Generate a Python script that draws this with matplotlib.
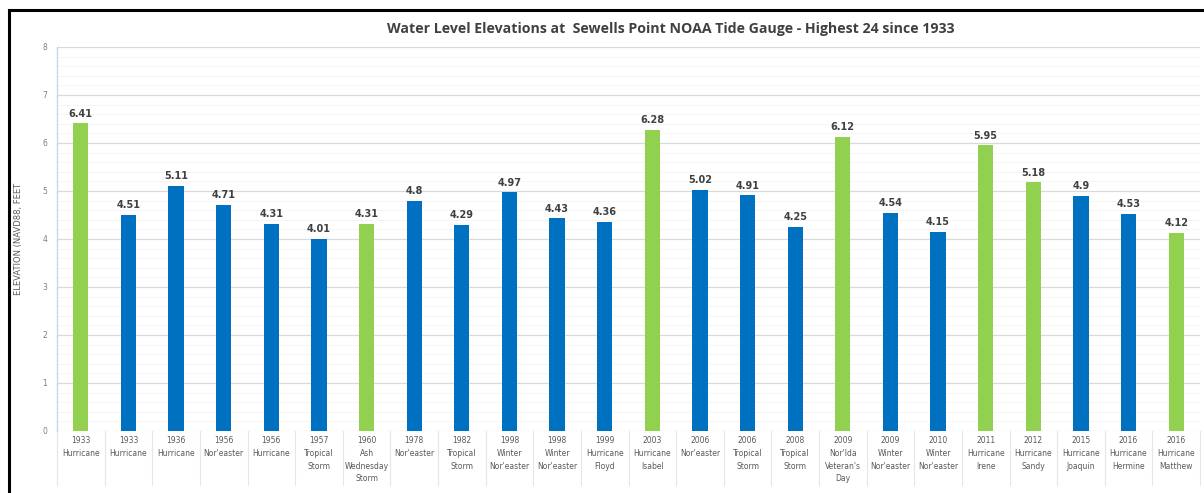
import matplotlib.pyplot as plt
import matplotlib.transforms as mtransforms
import numpy as np

years = ["1933", "1933", "1936", "1956", "1956", "1957", "1960", "1978", "1982",
         "1998", "1998", "1999", "2003", "2006", "2006", "2008", "2009", "2009",
         "2010", "2011", "2012", "2015", "2016", "2016"]
storms = ["Hurricane", "Hurricane", "Hurricane", "Nor'easter", "Hurricane",
          "Tropical\nStorm", "Ash\nWednesday\nStorm", "Nor'easter", "Tropical\nStorm",
          "Winter\nNor'easter", "Winter\nNor'easter", "Hurricane\nFloyd",
          "Hurricane\nIsabel", "Nor'easter", "Tropical\nStorm", "Tropical\nStorm",
          "Nor'Ida\nVeteran's\nDay", "Winter\nNor'easter", "Winter\nNor'easter",
          "Hurricane\nIrene", "Hurricane\nSandy", "Hurricane\nJoaquin",
          "Hurricane\nHermine", "Hurricane\nMatthew"]
elevation = [6.41, 4.51, 5.11, 4.71, 4.31, 4.01, 4.31, 4.8, 4.29, 4.97, 4.43, 4.36,
             6.28, 5.02, 4.91, 4.25, 6.12, 4.54, 4.15, 5.95, 5.18, 4.9, 4.53, 4.12]
# named storms highlighted in green
highlight = [True, False, False, False, False, False, True, False, False, False,
             False, False, True, False, False, False, True, False, False, True,
             True, False, False, True]

GREEN = "#92D050"
BLUE = "#0070C0"
TEXT = "#595959"

fig = plt.figure(figsize=(12.04, 4.93), dpi=100)
ax = fig.add_axes([57 / 1204, 62 / 493, 1143 / 1204, 384 / 493])

x = np.arange(len(elevation))
colors = [GREEN if h else BLUE for h in highlight]
ax.bar(x, elevation, width=0.32, color=colors, zorder=3)

for xi, v in zip(x, elevation):
    ax.text(xi, v + 0.1, "{:g}".format(v), ha="center", va="bottom",
            fontsize=7, fontweight="bold", color="#404040")

ax.set_xlim(-0.5, len(elevation) - 0.5)
ax.set_ylim(0, 8)
ax.set_yticks(range(0, 9))
ax.set_yticks(np.arange(0, 8.01, 0.2), minor=True)
ax.tick_params(axis="y", which="both", length=0, labelsize=5.5, labelcolor="#7f7f7f", pad=7)
ax.grid(axis="y", which="major", color="#d9d9d9", linewidth=0.9, zorder=0)
ax.grid(axis="y", which="minor", color="#f4f4f4", linewidth=0.6, zorder=0)
ax.set_xticks([])

for side in ["top", "right", "bottom"]:
    ax.spines[side].set_visible(False)
ax.spines["left"].set_color("#bdd7ee")
ax.spines["left"].set_linewidth(0.9)

# two-level category labels under the axis
trans = mtransforms.blended_transform_factory(ax.transData, ax.transAxes)
for b in np.arange(-0.5, len(elevation), 1.0):
    ax.plot([b, b], [0, -0.14], transform=trans, color="#e6e6e6",
            linewidth=0.8, clip_on=False)
for xi, yr, name in zip(x, years, storms):
    ax.text(xi, -0.012, yr, transform=trans, ha="center", va="top",
            fontsize=5.5, color=TEXT)
    ax.text(xi, -0.048, name, transform=trans, ha="center", va="top",
            fontsize=5.5, color=TEXT, linespacing=1.45)

ax.set_ylabel("ELEVATION (NAVD88, FEET", fontsize=6, color=TEXT)
ax.yaxis.set_label_coords(-0.0295, 0.5)

fig.text(671 / 1204, 1 - 29 / 493,
         "Water Level Elevations at  Sewells Point NOAA Tide Gauge - Highest 24 since 1933",
         ha="center", va="center", fontsize=10.2, fontweight="bold", color="#404040",
         family="Open Sans")

# frame around the chart
fig.add_artist(plt.Line2D([9 / 1204, 9 / 1204], [0, 1 - 10 / 493], transform=fig.transFigure,
                          color="black", linewidth=2.2))
fig.add_artist(plt.Line2D([9 / 1204, 1], [1 - 10 / 493, 1 - 10 / 493], transform=fig.transFigure,
                          color="black", linewidth=2.2))

fig.savefig("out.png", dpi=100)
